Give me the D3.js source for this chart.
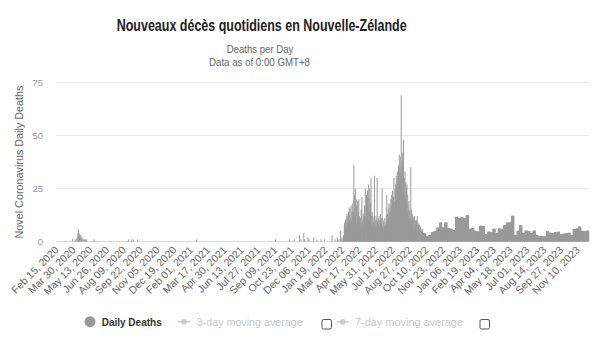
<!DOCTYPE html>
<html>
<head>
<meta charset="utf-8">
<script src="https://cdn.jsdelivr.net/npm/d3@7/dist/d3.min.js"></script>
<style>
  body { margin: 0; background: #fff; }
  svg { display: block; font-family: "Liberation Sans", Arial, sans-serif; }
</style>
</head>
<body>
<div id="chart"></div>
<script>
// ---- data ----
const firstDay = "2020-02-15";
const lastDay = "2023-12-10";

// 2020-2021: only a few scattered days had deaths, every other day is 0
const earlyDates = ["2020-03-29", "2020-04-04", "2020-04-07", "2020-04-10", "2020-04-12", "2020-04-13",
  "2020-04-14", "2020-04-15", "2020-04-16", "2020-04-17", "2020-04-18", "2020-04-20", "2020-04-21",
  "2020-04-23", "2020-04-26", "2020-04-29", "2020-05-02", "2020-05-05", "2020-05-24", "2020-08-22",
  "2020-08-31", "2020-09-04", "2020-09-15", "2021-02-17", "2021-09-11", "2021-10-18", "2021-10-30",
  "2021-11-13", "2021-11-17", "2021-11-24", "2021-11-26", "2021-12-05", "2021-12-08", "2021-12-20",
  "2021-12-28", "2022-01-08", "2022-01-17"];
const earlyDeaths = [1, 1, 1, 2, 4, 6, 3, 4, 2, 3, 2, 3, 1, 2, 1, 1, 1, 1, 1, 1,
  1, 1, 1, 1, 1, 1, 1, 3, 1, 4, 1, 2, 1, 2, 1, 1, 1];

// daily values, 1 Feb 2022 -> 2 Oct 2022
const dailyStart = "2022-02-01";
const daily2022 = [
  0, 0, 0, 0, 0, 3, 0, 0, 0, 0, 0, 0, 0, 1, 0, 0, 0, 0, 0, 2, 0, 0, 0, 1, 0, 0, 0, 5,            // Feb
  0, 1, 0, 2, 0, 1, 0, 3, 2, 8, 9, 5, 10, 7, 11, 6, 13, 9, 12, 8, 14, 10, 16, 9, 15, 11, 8, 17, 10, 14, 12, // Mar
  18, 9, 14, 36, 12, 22, 10, 25, 13, 20, 8, 17, 11, 19, 7, 14, 20, 9, 12, 8, 11, 6, 15, 9, 21, 10, 7, 13, 9, 12, // Apr
  10, 17, 8, 25, 12, 9, 22, 11, 19, 24, 13, 27, 10, 20, 14, 25, 9, 18, 30, 12, 8, 14, 7, 12, 9, 6, 11, 31, 8, 10, 7, // May
  12, 7, 10, 30, 9, 6, 11, 8, 12, 7, 10, 6, 13, 8, 9, 11, 25, 7, 6, 10, 5, 9, 7, 11, 6, 8, 7, 12, 22, 10, // Jun
  13, 9, 16, 11, 18, 10, 14, 17, 12, 20, 15, 22, 13, 24, 18, 16, 21, 30, 19, 15, 24, 27, 22, 31, 26, 20, 33, 28, 24, 36, 30, // Jul
  41, 27, 35, 32, 40, 69, 30, 38, 26, 42, 35, 48, 24, 30, 22, 33, 20, 28, 25, 18, 27, 14, 22, 17, 12, 19, 10, 15, 11, 9, 35, // Aug
  8, 15, 7, 13, 10, 12, 6, 11, 9, 12, 7, 10, 8, 6, 10, 7, 12, 5, 9, 8, 6, 4, 8, 5, 7, 4, 6, 5, 3, 6, // Sep
  5, 4
];

// from Oct 2022 the series moves in flat weekly steps (one value per Mon-Sun week)
const weeklyStart = "2022-10-03";
const weeklyDeaths = [4, 2.5, 3, 4.5, 5, 6.5, 8.9, 6.6, 9, 6.3, 6, 5.4, 11.6, 11, 11.4, 10.9, 12.4,
  6, 6.3, 5, 4.7, 7.4, 7.3, 3.4, 4.6, 4.4, 6, 4, 6.1, 5.9, 7.6, 8.9, 9.1, 12.1, 3.1, 5.1, 7.6,
  4, 5.1, 4.9, 4, 5.1, 3.1, 2.4, 2.6, 2.4, 4.9, 4.1, 4, 4.4, 4.6, 3.4, 3.6, 4, 4.1, 3, 5.9,
  6.1, 7, 5, 4.9, 5.1];

const yTicks = [0, 25, 50, 75];
const tickStep = 44; // one x label every 44 days

// ---- build the daily series ----
const parse = d3.utcParse("%Y-%m-%d");
const start = parse(firstDay);
const days = d3.utcDay.range(start, d3.utcDay.offset(parse(lastDay), 1));
const deaths = days.map(() => 0);

earlyDates.forEach((s, i) => { deaths[d3.utcDay.count(start, parse(s))] = earlyDeaths[i]; });
const dOff = d3.utcDay.count(start, parse(dailyStart));
daily2022.forEach((v, i) => { deaths[dOff + i] = v; });
const wOff = d3.utcDay.count(start, parse(weeklyStart));
weeklyDeaths.forEach((v, w) => {
  for (let k = 0; k < 7; k++) deaths[wOff + w * 7 + k] = v;
});

// ---- chart ----
const width = 600, height = 351;
const plot = { left: 56, right: 589, top: 82.5, bottom: 241.5 };

const svg = d3.select('#chart')
  .append('svg')
  .attr('width', width)
  .attr('height', height);

const x = d3.scaleBand()
  .domain(d3.range(days.length))
  .range([plot.left, plot.right]);

const y = d3.scaleLinear()
  .domain([0, 75])
  .range([plot.bottom, plot.top]);

// titles
svg.append('text')
  .attr('x', 116.7).attr('y', 30.7)
  .attr('textLength', 290).attr('lengthAdjust', 'spacingAndGlyphs')
  .style('font-size', '16px').style('font-weight', 'bold')
  .attr('fill', '#222')
  .text('Nouveaux décès quotidiens en Nouvelle-Zélande');

svg.append('text')
  .attr('x', 226.7).attr('y', 53)
  .attr('textLength', 66.7).attr('lengthAdjust', 'spacingAndGlyphs')
  .style('font-size', '11px').attr('fill', '#666')
  .text('Deaths per Day');

svg.append('text')
  .attr('x', 209).attr('y', 65.7)
  .attr('textLength', 101).attr('lengthAdjust', 'spacingAndGlyphs')
  .style('font-size', '11px').attr('fill', '#666')
  .text('Data as of 0:00 GMT+8');

// gridlines
svg.append('g')
  .selectAll('line')
  .data(yTicks)
  .join('line')
  .attr('x1', plot.left).attr('x2', plot.right)
  .attr('y1', d => y(d)).attr('y2', d => y(d))
  .attr('stroke', d => d === 0 ? '#d8d8d8' : '#e8e8e8')
  .attr('stroke-width', 1);

// y axis
const yAxis = svg.append('g')
  .attr('transform', `translate(${plot.left},0)`)
  .call(d3.axisLeft(y).tickValues(yTicks).tickSize(0).tickPadding(13));
yAxis.select('.domain').remove();
yAxis.selectAll('text')
  .style('font-size', '9.5px')
  .style('font-family', '"Liberation Sans", Arial, sans-serif')
  .attr('fill', '#999');

svg.append('text')
  .attr('transform', `translate(22.5,${(plot.top + plot.bottom) / 2}) rotate(-90)`)
  .attr('text-anchor', 'middle')
  .attr('textLength', 153).attr('lengthAdjust', 'spacingAndGlyphs')
  .style('font-size', '11px').attr('fill', '#666')
  .text('Novel Coronavirus Daily Deaths');

// bars: ~0.4px per day, so draw each at least 1px wide like the original
svg.append('g')
  .attr('fill', '#999')
  .selectAll('rect')
  .data(deaths)
  .join('rect')
  .attr('x', (d, i) => x(i) + x.bandwidth() / 2 - 0.5)
  .attr('width', 1)
  .attr('y', d => y(d))
  .attr('height', d => y(0) - y(d));

// x axis labels
const fmt = d3.utcFormat('%b %d, %Y');
const xTicks = d3.range(0, days.length, tickStep);
const xAxis = svg.append('g')
  .attr('transform', `translate(0,${plot.bottom})`)
  .call(d3.axisBottom(x).tickValues(xTicks).tickSize(0).tickFormat(i => fmt(days[i])));
xAxis.select('.domain').remove();
xAxis.selectAll('text')
  .style('font-size', '10.5px')
  .style('font-family', '"Liberation Sans", Arial, sans-serif')
  .attr('fill', '#666')
  .attr('text-anchor', 'end')
  .attr('dy', 0)
  .attr('y', 0)
  .attr('transform', 'translate(3,9) rotate(-45)');

// legend
const legend = svg.append('g');
legend.append('circle')
  .attr('cx', 90).attr('cy', 321.7).attr('r', 5.5)
  .attr('fill', '#999');
legend.append('text')
  .attr('x', 101.7).attr('y', 326)
  .attr('textLength', 60).attr('lengthAdjust', 'spacingAndGlyphs')
  .style('font-size', '11.5px').style('font-weight', 'bold')
  .attr('fill', '#333')
  .text('Daily Deaths');

const inactive = [
  { label: '3-day moving average', sx: 178, tx: 196.7, tw: 106, box: 322 },
  { label: '7-day moving average', sx: 336.7, tx: 355, tw: 108, box: 480 }
];
inactive.forEach(item => {
  legend.append('line')
    .attr('x1', item.sx).attr('x2', item.sx + 12)
    .attr('y1', 321.7).attr('y2', 321.7)
    .attr('stroke', '#ccc').attr('stroke-width', 1.5);
  legend.append('circle')
    .attr('cx', item.sx + 6).attr('cy', 321.7).attr('r', 2.8)
    .attr('fill', '#ccc');
  legend.append('text')
    .attr('x', item.tx).attr('y', 326)
    .attr('textLength', item.tw).attr('lengthAdjust', 'spacingAndGlyphs')
    .style('font-size', '11.5px')
    .attr('fill', '#c8c8c8')
    .text(item.label);
  legend.append('rect')
    .attr('x', item.box).attr('y', 319.5)
    .attr('width', 9.5).attr('height', 9.5)
    .attr('rx', 1.5)
    .attr('fill', '#fff')
    .attr('stroke', '#555').attr('stroke-width', 1);
});
</script>
</body>
</html>
